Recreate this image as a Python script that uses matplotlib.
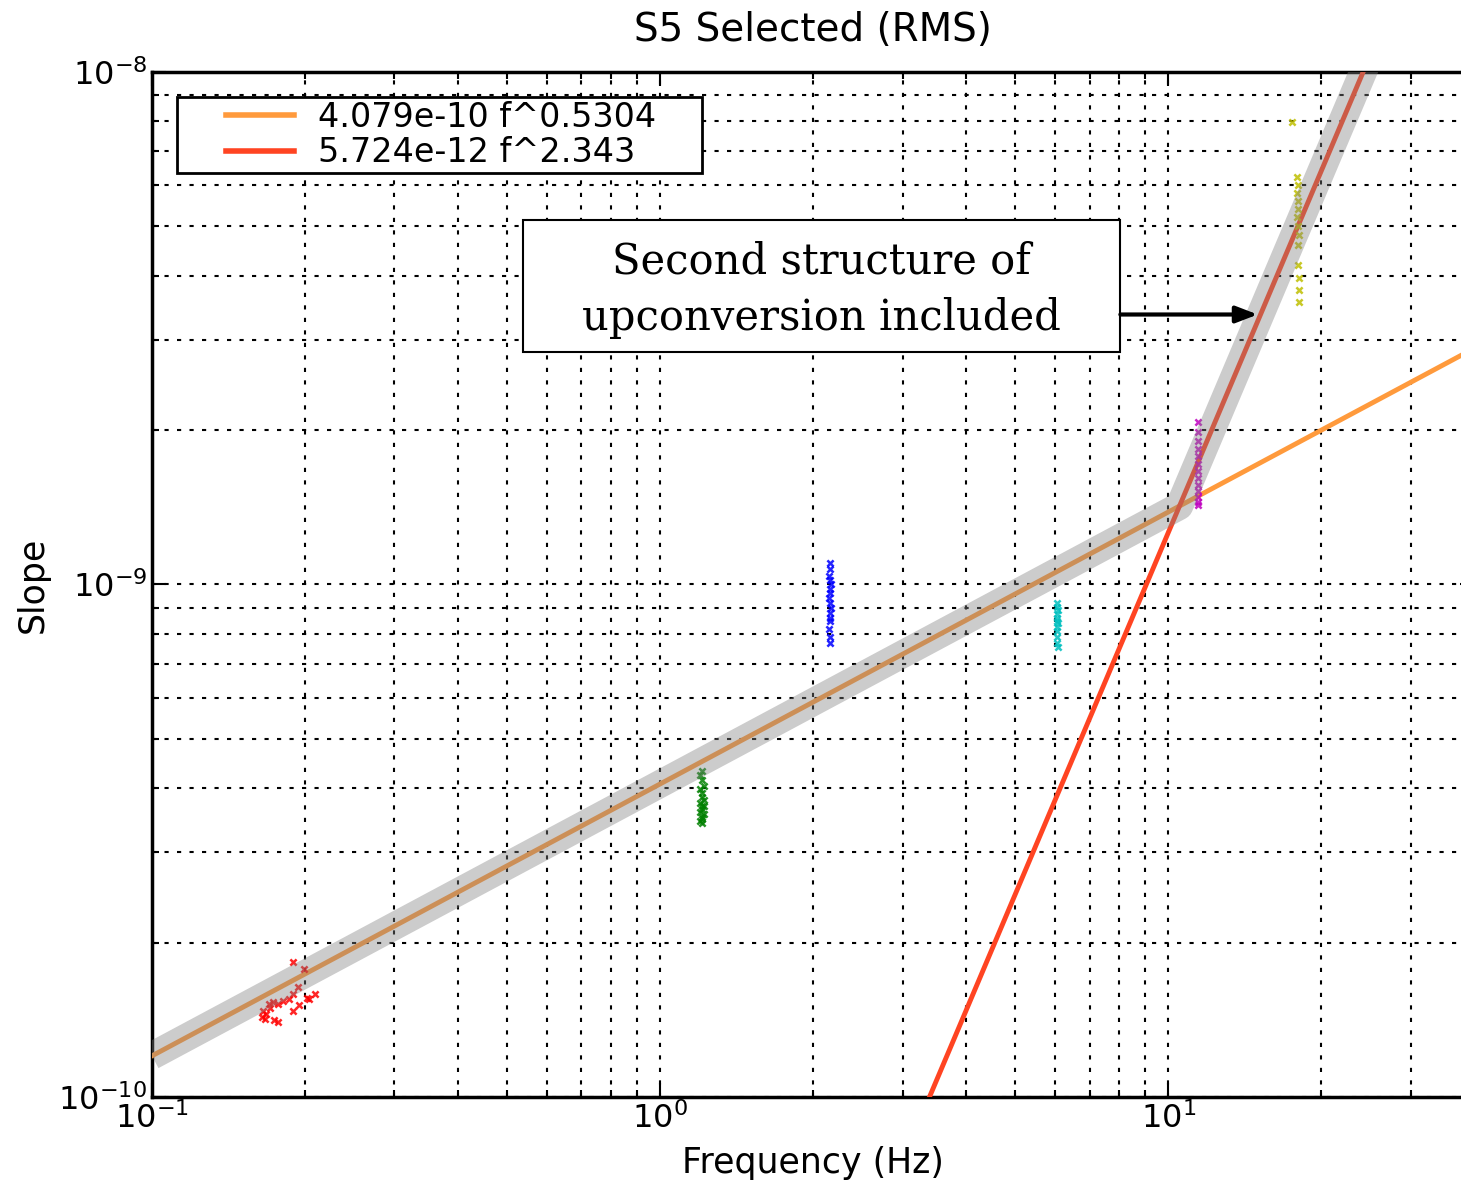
import matplotlib
matplotlib.use("Agg")
import matplotlib.pyplot as plt
from matplotlib.patches import Rectangle
import numpy as np

plt.rcParams["mathtext.fontset"] = "dejavuserif"

# fit parameters (from legend)
fit_low = (4.079e-10, 0.5304)
fit_high = (5.724e-12, 2.343)

# selected points per frequency band
red_f = [0.1895, 0.199, 0.209, 0.204, 0.194, 0.1895, 0.186, 0.181, 0.177, 0.173, 0.170,
         0.1654, 0.168, 0.165, 0.167, 0.174, 0.177, 0.1895, 0.195, 0.202, 0.171]
red_s = [1.83e-10, 1.78e-10, 1.59e-10, 1.55e-10, 1.64e-10, 1.59e-10, 1.55e-10, 1.54e-10,
         1.52e-10, 1.53e-10, 1.52e-10, 1.47e-10, 1.45e-10, 1.43e-10, 1.42e-10, 1.41e-10,
         1.40e-10, 1.47e-10, 1.51e-10, 1.56e-10, 1.49e-10]
green_f = [1.21, 1.20, 1.21, 1.22, 1.20, 1.21, 1.21, 1.22, 1.20, 1.21, 1.21, 1.20, 1.22,
           1.21, 1.21, 1.20, 1.21, 1.22]
green_s = [4.33e-10, 4.25e-10, 4.15e-10, 4.05e-10, 3.98e-10, 3.92e-10, 3.85e-10, 3.80e-10,
           3.74e-10, 3.69e-10, 3.64e-10, 3.60e-10, 3.56e-10, 3.52e-10, 3.48e-10, 3.45e-10,
           3.42e-10, 3.70e-10]
blue_f = [2.16, 2.16, 2.15, 2.16, 2.17, 2.16, 2.16, 2.15, 2.16, 2.17, 2.16, 2.16, 2.16,
          2.15, 2.16, 2.16]
blue_s = [1.10e-9, 1.07e-9, 1.04e-9, 1.02e-9, 1.00e-9, 9.8e-10, 9.6e-10, 9.4e-10, 9.2e-10,
          9.0e-10, 8.8e-10, 8.6e-10, 8.5e-10, 8.2e-10, 7.9e-10, 7.7e-10]
cyan_f = [6.05, 6.04, 6.06, 6.05, 6.05, 6.04, 6.06, 6.05, 6.05, 6.04, 6.05, 6.06]
cyan_s = [9.2e-10, 9.05e-10, 8.9e-10, 8.75e-10, 8.6e-10, 8.5e-10, 8.4e-10, 8.25e-10,
          8.1e-10, 7.9e-10, 7.7e-10, 7.55e-10]
magenta_f = [11.46, 11.45, 11.47, 11.46, 11.46, 11.45, 11.47, 11.46, 11.46, 11.45, 11.47,
             11.46, 11.46]
magenta_s = [2.07e-9, 1.98e-9, 1.90e-9, 1.84e-9, 1.78e-9, 1.72e-9, 1.66e-9, 1.61e-9,
             1.56e-9, 1.52e-9, 1.48e-9, 1.45e-9, 1.43e-9]
yellow_f = [17.5, 17.9, 18.0, 17.9, 18.0, 18.0, 17.9, 18.0, 18.1, 18.0, 18.0, 18.1, 18.1,
            18.1]
yellow_s = [7.98e-9, 6.24e-9, 6.0e-9, 5.8e-9, 5.6e-9, 5.4e-9, 5.2e-9, 5.0e-9, 4.8e-9,
            4.6e-9, 4.2e-9, 3.95e-9, 3.75e-9, 3.55e-9]

fig = plt.figure(figsize=(14.61, 11.85), dpi=100)
ax = fig.add_axes([0.104, 0.0743, 0.905, 0.8652])

f = np.logspace(-1, np.log10(40), 400)
low = fit_low[0] * f ** fit_low[1]
high = fit_high[0] * f ** fit_high[1]

ax.plot(f, low, color="#ff9a3c", lw=3.5, zorder=3, label="4.079e-10 f^0.5304")
ax.plot(f, high, color="#ff4422", lw=3.5, zorder=3, label="5.724e-12 f^2.343")

groups = [(red_f, red_s, "r"), (green_f, green_s, "g"), (blue_f, blue_s, "b"),
          (cyan_f, cyan_s, "c"), (magenta_f, magenta_s, "m"), (yellow_f, yellow_s, "#bfbf00")]
for xs, ys, c in groups:
    ax.scatter(xs, ys, marker="x", s=20, color=c, linewidths=1.8, alpha=0.85, zorder=4)

# combined model (translucent gray band on top)
ax.plot(f, np.maximum(low, high), color="#808080", alpha=0.4, lw=20,
        solid_capstyle="butt", zorder=5)

ax.set_xscale("log")
ax.set_yscale("log")
ax.set_xlim(0.1, 40)
ax.set_ylim(1e-10, 1e-8)

ax.grid(True, which="both", color="black", linestyle=(0, (2, 4)), linewidth=1.5)
ax.set_axisbelow(True)
ax.tick_params(which="both", direction="in", top=True, right=True, labelsize=23)
ax.tick_params(which="major", length=10, width=1.5)
ax.tick_params(which="minor", length=5, width=1.5)
for s in ax.spines.values():
    s.set_linewidth(2.5)

ax.set_title("S5 Selected (RMS)", fontsize=28, pad=22)
ax.set_xlabel("Frequency (Hz)", fontsize=25, labelpad=8)
ax.set_ylabel("Slope", fontsize=25, labelpad=6)

leg = ax.legend(loc="upper left", fontsize=24, fancybox=False, framealpha=1,
                edgecolor="black", handlelength=3.4, handletextpad=0.7,
                borderpad=0.12, labelspacing=0.08, borderaxespad=0.75)
leg.get_frame().set_linewidth(2)
for line in leg.get_lines():
    line.set_linewidth(4)
    xd = np.asarray(line.get_xdata(), dtype=float)
    line.set_xdata(np.linspace(xd[0] + 0.4 * (xd[-1] - xd[0]), xd[-1], len(xd)))
for t in leg.get_texts():
    t.set_text(t.get_text() + "    ")

ax.add_patch(Rectangle((0.537, 2.84e-9), 8.05 - 0.537, 5.14e-9 - 2.84e-9,
                       facecolor="white", edgecolor="black", lw=1.5, zorder=6))
ax.text(2.08, 3.76e-9, "Second structure of\nupconversion included", fontsize=30,
        family="DejaVu Serif", ha="center", va="center", linespacing=1.45, zorder=7)
ax.annotate("", xy=(15.0, 3.36e-9), xytext=(8.05, 3.36e-9), zorder=7,
            arrowprops=dict(arrowstyle="-|>,head_length=1.3,head_width=0.5",
                            color="black", lw=3, shrinkA=0, shrinkB=0))

fig.savefig("out.png", dpi=100)
